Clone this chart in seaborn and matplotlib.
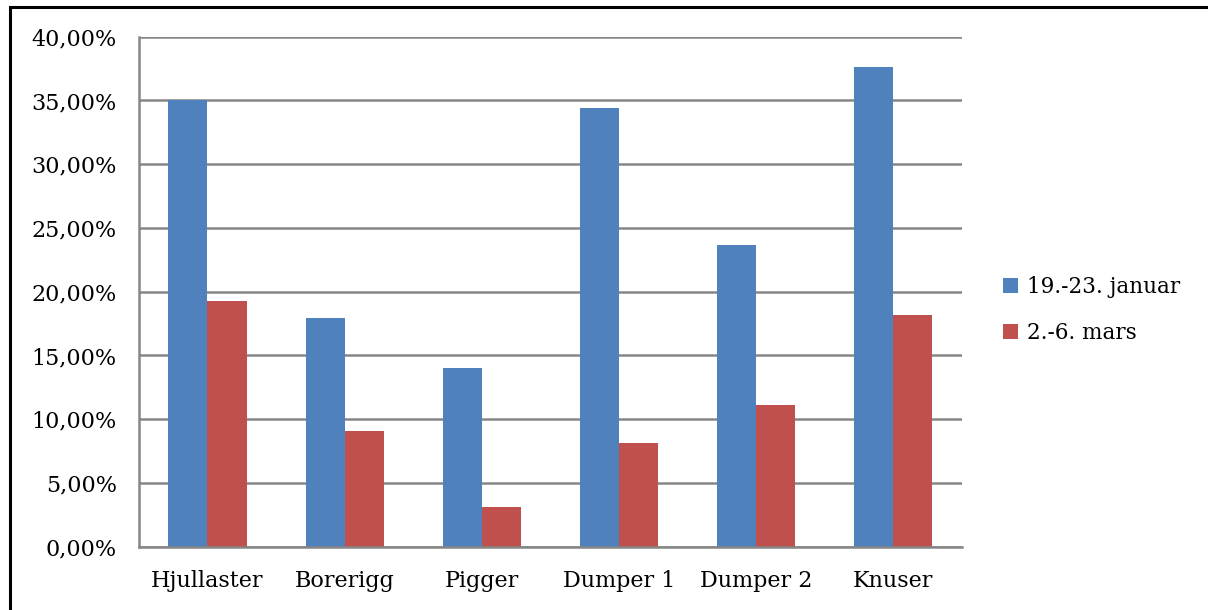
import matplotlib
matplotlib.use("Agg")
import matplotlib.pyplot as plt
from matplotlib.ticker import FuncFormatter, MultipleLocator
from matplotlib.patches import Rectangle
import seaborn as sns
import pandas as pd

# Share of time per machine in the two measurement periods
machines = ["Hjullaster", "Borerigg", "Pigger", "Dumper 1", "Dumper 2", "Knuser"]
periods = ["19.-23. januar", "2.-6. mars"]
januar = [0.350, 0.179, 0.1405, 0.344, 0.2366, 0.3762]
mars = [0.1927, 0.0907, 0.0311, 0.0811, 0.1111, 0.1815]
colors = ["#4F81BD", "#C0504D"]

df = pd.DataFrame({
    "Maskin": machines * 2,
    "Periode": [periods[0]] * len(machines) + [periods[1]] * len(machines),
    "Andel": januar + mars,
})

sns.set_theme(style="white")
plt.rcParams["font.family"] = ["DejaVu Serif"]
plt.rcParams["text.color"] = "black"

fig = plt.figure(figsize=(12.08, 6.10), dpi=100)
ax = fig.add_axes([0.115, 0.1038, 0.681, 0.836])

sns.barplot(data=df, x="Maskin", y="Andel", hue="Periode",
            palette=colors, width=0.57, saturation=1, ax=ax,
            edgecolor="none", linewidth=0)

ax.set_ylim(0, 0.40)
ax.set_xlim(-0.5, len(machines) - 0.5)
ax.yaxis.set_major_locator(MultipleLocator(0.05))
ax.yaxis.set_major_formatter(
    FuncFormatter(lambda v, _: f"{v * 100:.2f}".replace(".", ",") + "%"))
ax.grid(axis="y", color="#868686", linewidth=1.8)
ax.set_axisbelow(True)
for side in ["top", "right"]:
    ax.spines[side].set_visible(False)
for side in ["left", "bottom"]:
    ax.spines[side].set_color("#868686")
    ax.spines[side].set_linewidth(1.8)
ax.tick_params(axis="both", length=0, labelsize=16, colors="black")
ax.tick_params(axis="y", pad=16)
ax.tick_params(axis="x", pad=17)
ax.set_xlabel("")
ax.set_ylabel("")

leg = ax.legend(loc="center left", bbox_to_anchor=(984 / 1208, 1 - 310 / 610),
                bbox_transform=fig.transFigure,
                frameon=False, fontsize=15.5, handlelength=0.7,
                handleheight=0.7, handletextpad=0.4, labelspacing=1.1)
for t in leg.get_texts():
    t.set_color("black")

# Outer frame around the chart
fig.patches.append(Rectangle((10 / 1208, -0.05), 1.2, (610 - 7) / 610 + 0.05,
                             transform=fig.transFigure, fill=False,
                             edgecolor="black", linewidth=2.2))

fig.savefig("out.png", dpi=100)
